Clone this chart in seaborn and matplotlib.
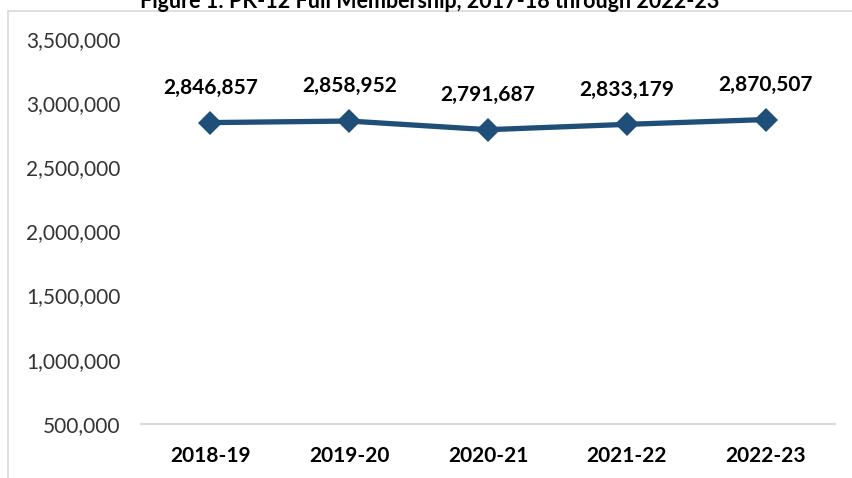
import matplotlib
matplotlib.use("Agg")
import matplotlib.pyplot as plt
from matplotlib.lines import Line2D
from matplotlib.ticker import FuncFormatter
import seaborn as sns
import pandas as pd

# PK-12 full membership by school year
years = ["2018-19", "2019-20", "2020-21", "2021-22", "2022-23"]
membership = [2846857, 2858952, 2791687, 2833179, 2870507]
y_ticks = [500000, 1000000, 1500000, 2000000, 2500000, 3000000, 3500000]

df = pd.DataFrame({"year": years, "membership": membership})

sns.set_theme(style="white")
plt.rcParams["font.family"] = ["Lato", "DejaVu Sans"]

line_color = "#1F4E79"
frame_color = "#D9D9D9"

fig = plt.figure(figsize=(8.52, 4.78), dpi=100)
ax = fig.add_axes([0.1655, 0.1130, 0.8145, 0.8060])

sns.lineplot(data=df, x="year", y="membership", ax=ax, color=line_color,
             linewidth=3.8, marker="D", markersize=12, markeredgewidth=0,
             sort=False)

ax.set_xlim(-0.5, len(years) - 0.5)
ax.set_ylim(y_ticks[0], y_ticks[-1])
ax.set_yticks(y_ticks)
ax.yaxis.set_major_formatter(FuncFormatter(lambda v, _: f"{int(v):,}"))
ax.set_xlabel("")
ax.set_ylabel("")

ax.tick_params(axis="y", length=0, pad=15, labelsize=15, labelcolor="#333333")
ax.tick_params(axis="x", length=0, pad=16, labelsize=15, labelcolor="#000000")
for lbl in ax.get_xticklabels():
    lbl.set_fontweight("bold")

for side in ["top", "right", "left"]:
    ax.spines[side].set_visible(False)
ax.spines["bottom"].set_color(frame_color)
ax.spines["bottom"].set_linewidth(1.6)

# value labels above each point
for i, v in enumerate(membership):
    ax.annotate(f"{v:,}", xy=(i, v), xytext=(0, 25), textcoords="offset points",
                ha="center", va="center", fontsize=15, fontweight="bold",
                color="#000000")

# chart frame (left and top edges)
W, H = 852, 478
fig.add_artist(Line2D([8 / W, 8 / W], [0, 1 - 11 / H], transform=fig.transFigure,
                      color=frame_color, linewidth=1.2))
fig.add_artist(Line2D([8 / W, 1], [1 - 11 / H, 1 - 11 / H], transform=fig.transFigure,
                      color=frame_color, linewidth=1.2))

fig.text(430 / W, 1 - 1.5 / H, "Figure 1: PK-12 Full Membership, 2017-18 through 2022-23",
         ha="center", va="center", fontsize=15.5, fontweight="bold", color="#000000")

fig.savefig("out.png", dpi=100)
